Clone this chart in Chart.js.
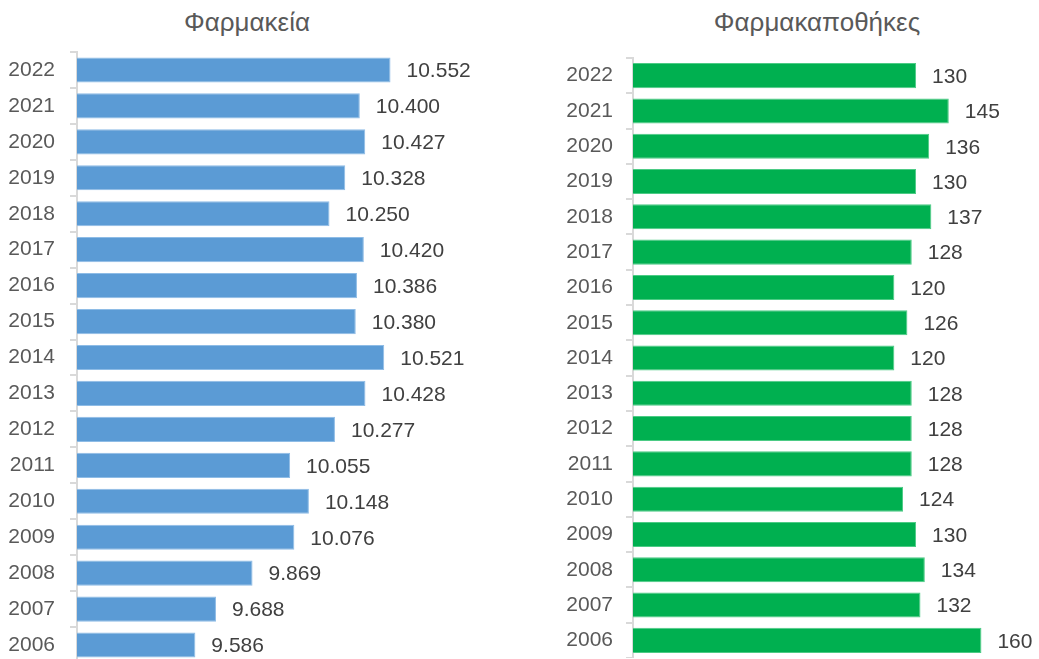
<!DOCTYPE html>
<html lang="el">
<head>
<meta charset="utf-8">
<title>Φαρμακεία και Φαρμακαποθήκες</title>
<script src="https://cdn.jsdelivr.net/npm/chart.js@4/dist/chart.umd.min.js"></script>
<style>
  html, body { margin: 0; padding: 0; background: #ffffff; overflow: hidden; }
  body { width: 1039px; height: 659px; position: relative; }
  .panel { position: absolute; top: 0; }
  .title {
    position: absolute; top: 7px; transform: translateX(-50%);
    font-family: "Liberation Sans", Arial, sans-serif; font-size: 26px;
    color: #595959; white-space: nowrap; line-height: 30px;
  }
</style>
</head>
<body>
<div class="title" style="left:247px">Φαρμακεία</div>
<div class="title" style="left:817px">Φαρμακαποθήκες</div>
<div class="panel" style="left:0; width:495px; height:663px;"><canvas id="pharmacies"></canvas></div>
<div class="panel" style="left:540px; width:499px; height:658px;"><canvas id="warehouses"></canvas></div>
<script>
// Years, most recent first (top row of each panel)
const years = ['2022','2021','2020','2019','2018','2017','2016','2015','2014','2013','2012','2011','2010','2009','2008','2007','2006'];
// Number of pharmacies per year
const pharmacies = [10552, 10400, 10427, 10328, 10250, 10420, 10386, 10380, 10521, 10428, 10277, 10055, 10148, 10076, 9869, 9688, 9586];
// Number of pharmaceutical warehouses per year
const warehouses = [130, 145, 136, 130, 137, 128, 120, 126, 120, 128, 128, 128, 124, 130, 134, 132, 160];

const FONT = '"Liberation Sans", Arial, sans-serif';

// Greek-style thousands separator (10.552)
function fmt(v) {
  return String(v).replace(/\B(?=(\d{3})+(?!\d))/g, '.');
}

// Writes each bar's value just past its end
const valueLabels = {
  id: 'valueLabels',
  afterDatasetsDraw(chart) {
    const ctx = chart.ctx;
    const meta = chart.getDatasetMeta(0);
    const data = chart.data.datasets[0].data;
    ctx.save();
    ctx.font = '21px ' + FONT;
    ctx.fillStyle = '#404040';
    ctx.textAlign = 'left';
    ctx.textBaseline = 'middle';
    meta.data.forEach((bar, i) => {
      ctx.fillText(fmt(data[i]), bar.x + 16, bar.y + 1.5);
    });
    ctx.restore();
  }
};

function makeChart(id, values, color, border, xMin, xMax, axisWidth, padTop, labelPad, pct) {
  return new Chart(document.getElementById(id), {
    type: 'bar',
    data: {
      labels: years,
      datasets: [{
        data: values,
        backgroundColor: color,
        borderColor: border,
        borderWidth: 1,
        categoryPercentage: 1,
        barPercentage: pct
      }]
    },
    options: {
      indexAxis: 'y',
      responsive: true,
      maintainAspectRatio: false,
      animation: false,
      layout: { padding: { top: padTop, right: 14, bottom: 0, left: 0 } },
      plugins: { legend: { display: false }, title: { display: false }, tooltip: { enabled: false } },
      scales: {
        x: { display: false, min: xMin, max: xMax },
        y: {
          afterFit(scale) {
            scale.width = axisWidth;
            scale.paddingTop = 0;
            scale.paddingBottom = 0;
          },
          border: { display: true, color: '#D9D9D9', width: 2 },
          grid: { display: true, drawOnChartArea: false, drawTicks: true, tickLength: 7, color: '#D9D9D9', lineWidth: 2, offset: true },
          ticks: { color: '#595959', font: { family: FONT, size: 21 }, padding: labelPad, autoSkip: false }
        }
      }
    },
    plugins: [valueLabels]
  });
}

makeChart('pharmacies', pharmacies, '#5B9BD5', '#8EBCE6', 9000, 11000, 77, 52, 15, 0.70);
makeChart('warehouses', warehouses, '#00B050', '#4CCB85', 0, 180, 93, 58, 13, 0.71);
</script>
</body>
</html>
